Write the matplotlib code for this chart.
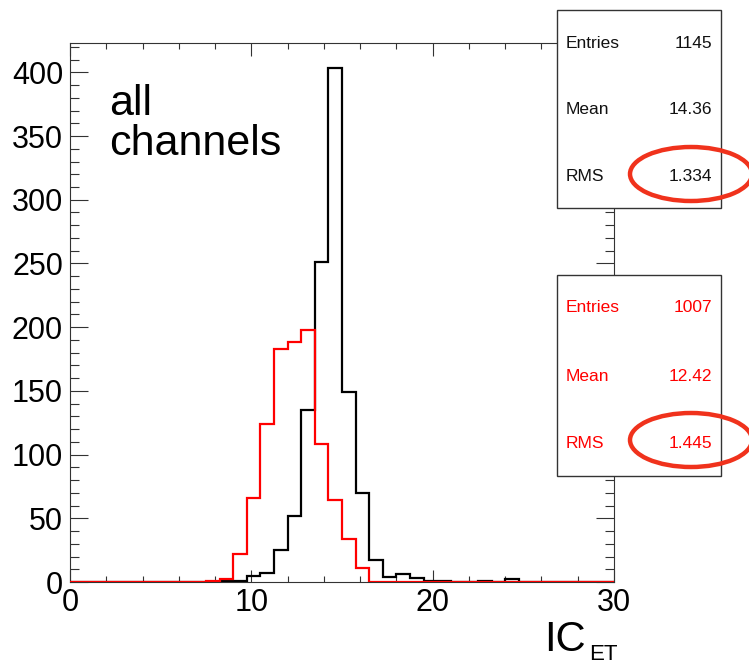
import numpy as np
import matplotlib
matplotlib.use("Agg")
import matplotlib.pyplot as plt
from matplotlib.patches import Ellipse, Rectangle
from matplotlib.ticker import MultipleLocator

plt.rcParams['font.family'] = ['Liberation Sans', 'DejaVu Sans']

# 40 bins of width 0.75 from 0 to 30
bin_edges = np.linspace(0, 30, 41)
black_counts = [0]*11 + [1, 1, 5, 7, 25, 52, 135, 251, 403, 149, 70, 17, 4, 6, 3, 1, 1, 0, 0, 1, 0, 2] + [0]*7
red_counts = [0]*10 + [1, 2, 22, 66, 124, 183, 188, 198, 108, 64, 34, 11] + [0]*18

stats_black = [("Entries", "1145"), ("Mean", "14.36"), ("RMS", "1.334")]
stats_red = [("Entries", "1007"), ("Mean", "12.42"), ("RMS", "1.445")]

W, H = 749, 668
fig = plt.figure(figsize=(W/100, H/100), dpi=100)
ax = fig.add_axes([70/W, 1-582/H, (614-70)/W, (582-43)/H])

def step(counts, color, z):
    y = np.concatenate([[0], np.repeat(counts, 2), [0]])
    x = np.repeat(bin_edges, 2)
    ax.plot(x, y, color=color, lw=1.6, zorder=z, solid_joinstyle='miter')

step(black_counts, 'black', 3)
step(red_counts, '#ff0000', 4)

ax.set_xlim(0, 30)
ax.set_ylim(0, 423)
ax.xaxis.set_major_locator(MultipleLocator(10))
ax.xaxis.set_minor_locator(MultipleLocator(2))
ax.yaxis.set_major_locator(MultipleLocator(50))
ax.yaxis.set_minor_locator(MultipleLocator(10))
ax.tick_params(axis='both', which='both', direction='in', top=True, right=True,
               width=0.8, color='#333333', labelsize=22)
ax.tick_params(axis='x', which='major', length=9, pad=4)
ax.tick_params(axis='x', which='minor', length=4.5)
ax.tick_params(axis='y', which='major', length=13, pad=5)
ax.tick_params(axis='y', which='minor', length=6.5)
for s in ax.spines.values():
    s.set_linewidth(0.8)
    s.set_color('#333333')

fig.text(109/W, 1-124/H, "all\nchannels", fontsize=31,
         ha='left', va='center', linespacing=1.02)

fig.text(544/W, 1-640/H, "IC", fontsize=30, ha='left', va='center')
fig.text(589/W, 1-655/H, "ET", fontsize=16, ha='left', va='center')

def stats_box(y0, y1, stats, color):
    r = Rectangle((557/W, 1-y1/H), (721-557)/W, (y1-y0)/H, transform=fig.transFigure,
                  facecolor='white', edgecolor='#333333', lw=1.0, zorder=10)
    fig.add_artist(r)
    rows = [y0 + 33, (y0 + y1)/2 + 1, y1 - 32]
    for (k, v), yy in zip(stats, rows):
        fig.text(566/W, 1-yy/H, k, color=color, fontsize=12.5, ha='left', va='center', zorder=11)
        fig.text(712/W, 1-yy/H, v, color=color, fontsize=12.5, ha='right', va='center', zorder=11)

stats_box(10, 208, stats_black, '#111111')
stats_box(275, 476, stats_red, '#ff0000')

for cy in (174, 440):
    e = Ellipse((691/W, 1-cy/H), 122/W, 54/H, transform=fig.transFigure,
                facecolor='none', edgecolor='#f0321c', lw=3.2, zorder=12)
    fig.add_artist(e)

fig.savefig("out.png", dpi=100)
